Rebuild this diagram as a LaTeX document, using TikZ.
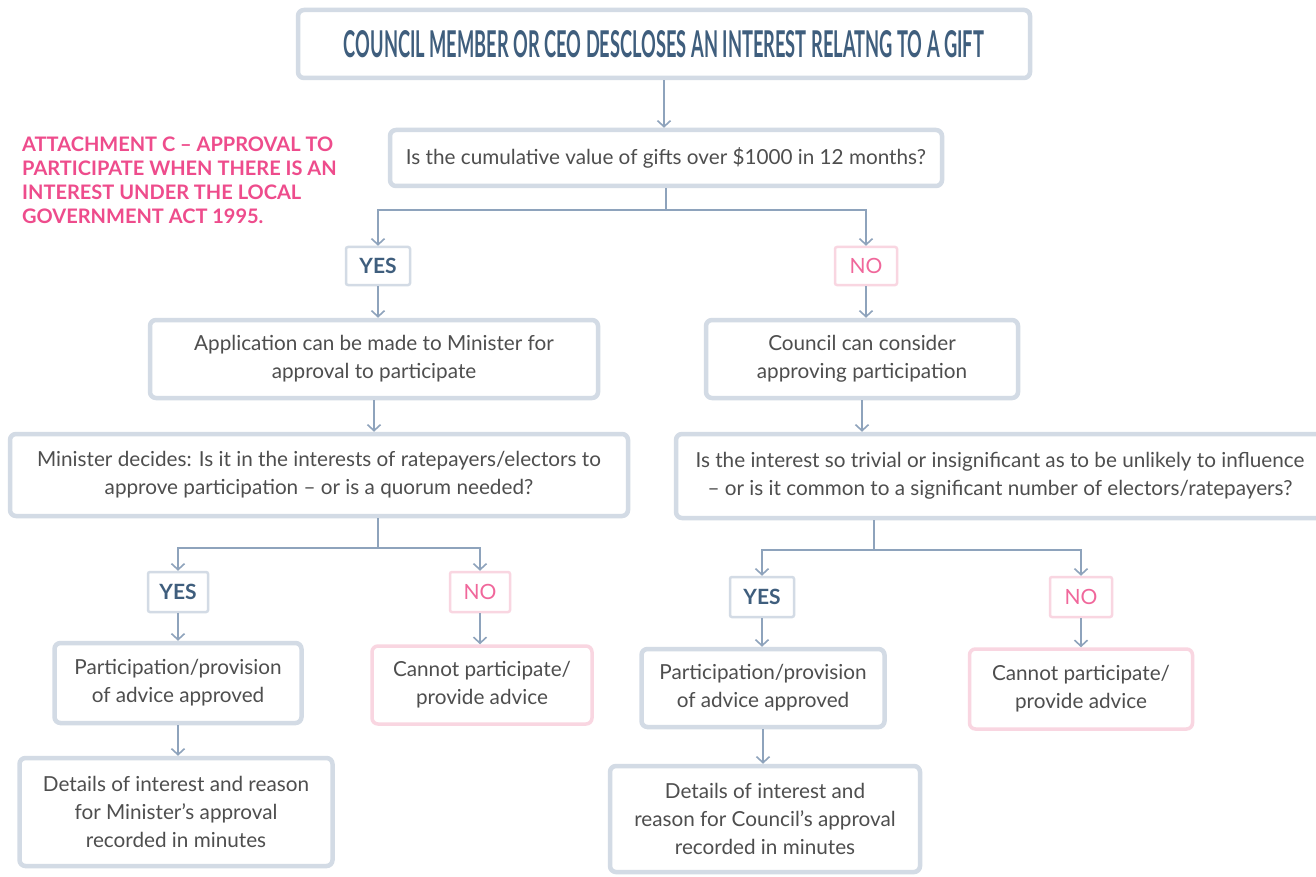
\documentclass[tikz,border=0pt]{standalone}
\usepackage{fontspec}
\setmainfont{Lato}
\usetikzlibrary{arrows.meta,positioning,calc}
\definecolor{boxc}{HTML}{D3DBE5}
\definecolor{pinkbox}{HTML}{F9D6E1}
\definecolor{arrc}{HTML}{8EA3BC}
\definecolor{txt}{HTML}{4E4E4E}
\definecolor{navy}{HTML}{3F5E7D}
\definecolor{pinktxt}{HTML}{EE4C8C}
\definecolor{notxt}{HTML}{F0679B}
\tikzset{
  x=1pt,y=-1pt,
  box/.style={draw=boxc,line width=4.5pt,rounded corners=6pt,fill=white,align=center,
    text=txt,font=\fontsize{20.7}{28}\selectfont,inner sep=0pt},
  pbox/.style={box,draw=pinkbox,line width=3.5pt},
  yesbox/.style={draw=boxc,line width=2.5pt,rounded corners=2pt,fill=white,
    text=navy,font=\fontsize{21}{24}\selectfont\bfseries,inner sep=0pt},
  nobox/.style={yesbox,draw=pinkbox,text=notxt,font=\fontsize{21}{24}\selectfont},
  conn/.style={draw=arrc,line width=1.8pt},
  arr/.style={conn,-{Straight Barb[length=6pt,width=13pt,line width=1.6pt]}},
}
\begin{document}
\begin{tikzpicture}
\clip (0,0) rectangle (1316,877);
\fill[white] (0,0) rectangle (1316,877);
% title
\node[box,minimum width=732pt,minimum height=68pt,text=navy] (title) at (664,44)
  {\resizebox{640pt}{27pt}{\bfseries COUNCIL MEMBER OR CEO DESCLOSES AN INTEREST RELATNG TO A GIFT}};
% attachment note
\node[anchor=north west,align=left,text=pinktxt,inner sep=0pt,
  font=\fontsize{20}{24}\selectfont\bfseries] (note) at (22,137)
  {ATTACHMENT C – APPROVAL TO\\PARTICIPATE WHEN THERE IS AN\\INTEREST UNDER THE LOCAL\\GOVERNMENT ACT 1995.};
% nodes
\node[box,minimum width=552pt,minimum height=56pt] (q1) at (666,158)
  {Is the cumulative value of gifts over \$1000 in 12 months?};
\node[yesbox,minimum width=64pt,minimum height=38pt] (yes1) at (378,266) {YES};
\node[nobox,minimum width=62pt,minimum height=38pt] (no1) at (866,266) {NO};
\node[box,minimum width=448pt,minimum height=78pt] (app) at (374,359)
  {Application can be made to Minister for\\approval to participate};
\node[box,minimum width=618pt,minimum height=82pt] (minister) at (319,475)
  {Minister decides: Is it in the interests of ratepayers/electors to\\approve participation – or is a quorum needed?};
\node[box,minimum width=648pt,minimum height=84pt] (trivial) at (1000,476)
  {};
\node[box,minimum width=312pt,minimum height=78pt] (council) at (862,359)
  {Council can consider\\approving participation};
\node[text=txt,font=\fontsize{20.7}{28}\selectfont,align=center,inner sep=0pt] (trivialtxt) at (1000,476)
  {Is the interest so trivial or insignificant as to be unlikely to influence\\– or is it common to a significant number of electors/ratepayers?};
\node[yesbox,minimum width=60pt,minimum height=40pt] (yes2) at (178,592) {YES};
\node[nobox,minimum width=60pt,minimum height=40pt] (no2) at (480,592) {NO};
\node[box,minimum width=247pt,minimum height=80pt] (part1) at (178,683)
  {Participation/provision\\of advice approved};
\node[pbox,minimum width=220pt,minimum height=78pt] (cannot1) at (482,685)
  {Cannot participate/\\provide advice};
\node[box,minimum width=313pt,minimum height=108pt] (details1) at (176,812)
  {Details of interest and reason\\for Minister’s approval\\recorded in minutes};
\node[yesbox,minimum width=64pt,minimum height=40pt] (yes3) at (762,597) {YES};
\node[nobox,minimum width=62pt,minimum height=40pt] (no3) at (1081,597) {NO};
\node[box,minimum width=243pt,minimum height=78pt] (part2) at (763,688)
  {Participation/provision\\of advice approved};
\node[pbox,minimum width=223pt,minimum height=80pt] (cannot2) at (1081,689)
  {Cannot participate/\\provide advice};
\node[box,minimum width=310pt,minimum height=106pt] (details2) at (765,819)
  {Details of interest and\\reason for Council’s approval\\recorded in minutes};
% junctions
\coordinate (j1) at (666,210);
\coordinate (j2) at (378,548);
\coordinate (j3) at (874,550);
% connectors
\draw[arr] (title.south) -- (title.south |- q1.north);
\draw[conn] (q1.south) -- (j1);
\draw[arr] (j1) -| (yes1.north);
\draw[arr] (j1) -| (no1.north);
\draw[arr] (yes1.south) -- (yes1.south |- app.north);
\draw[arr] (no1.south) -- (no1.south |- council.north);
\draw[arr] (app.south) -- (app.south |- minister.north);
\draw[arr] (council.south) -- (council.south |- trivial.north);
\draw[conn] (j2 |- minister.south) -- (j2);
\draw[arr] (j2) -| (yes2.north);
\draw[arr] (j2) -| (no2.north);
\draw[arr] (yes2.south) -- (yes2.south |- part1.north);
\draw[arr] (no2.south) -- (no2.south |- cannot1.north);
\draw[arr] (part1.south) -- (part1.south |- details1.north);
\draw[conn] (j3 |- trivial.south) -- (j3);
\draw[arr] (j3) -| (yes3.north);
\draw[arr] (j3) -| (no3.north);
\draw[arr] (yes3.south) -- (yes3.south |- part2.north);
\draw[arr] (no3.south) -- (no3.south |- cannot2.north);
\draw[arr] (part2.south) -- (part2.south |- details2.north);
\end{tikzpicture}
\end{document}
